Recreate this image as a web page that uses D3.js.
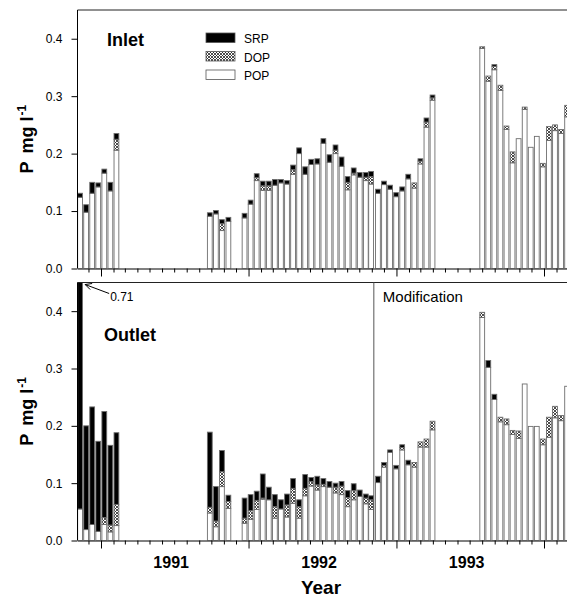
<!DOCTYPE html>
<html>
<head>
<meta charset="utf-8">
<script src="https://cdn.jsdelivr.net/npm/d3@7"></script>
<style>
  body { margin: 0; background: #fff; }
  text { font-family: "Liberation Sans", Arial, Helvetica, sans-serif; }
</style>
</head>
<body>
<div id="chart"></div>
<script>
// sampling dates (start of each ~2 week period), shared by inlet and outlet
var sampleDates = [
  "1990-11-03", "1990-11-18", "1990-12-03", "1990-12-18", "1991-01-02", "1991-01-17", "1991-02-01",
  "1991-09-20", "1991-10-05", "1991-10-20", "1991-11-05",
  "1991-12-15", "1991-12-30", "1992-01-14", "1992-01-29", "1992-02-13", "1992-02-28",
  "1992-03-14", "1992-03-29", "1992-04-13", "1992-04-28", "1992-05-13", "1992-05-28",
  "1992-06-12", "1992-06-27", "1992-07-12", "1992-07-27", "1992-08-11", "1992-08-26",
  "1992-09-10", "1992-09-25", "1992-10-10", "1992-10-23", "1992-11-09", "1992-11-24",
  "1992-12-09", "1992-12-24", "1993-01-08", "1993-01-23", "1993-02-07", "1993-02-22",
  "1993-03-09", "1993-03-24",
  "1993-07-25", "1993-08-09", "1993-08-24", "1993-09-08", "1993-09-23", "1993-10-08",
  "1993-10-23", "1993-11-07", "1993-11-22", "1993-12-07", "1993-12-22", "1994-01-06",
  "1994-01-21", "1994-02-05", "1994-02-20"
];

var inletSRP = [
  .007, .013, .019, .007, .007, .015, .010,
  .006, .006, .007, .007,
  .008, .007, .007, .008, .008, .010, .006, .006, .008, .010, .013, .009,
  .009, .008, .013, .009, .016, .010, .009, .008, .008, .009, .007, .006,
  .007, .007, .007, .008, 0, .004, .007, .005,
  0, 0, .003, 0, 0, 0, 0, 0, 0, 0, 0, 0, 0, 0, 0
];
var inletDOP = [
  0, 0, 0, 0, 0, 0, .019,
  0, 0, .012, 0,
  0, 0, .005, .008, .008, 0, 0, 0, .008, 0, 0, 0,
  0, 0, 0, .006, 0, .013, .003, 0, .006, .013, 0, 0,
  0, 0, 0, 0, .009, .005, .009, .004,
  .003, .009, .006, .009, .006, .019, 0, .004, 0, 0, .006, .024, .010, .007, .020
];
var inletPOP = [
  .124, .098, .131, .142, .166, .135, .206,
  .091, .095, .066, .082,
  .088, .112, .153, .136, .136, .145, .149, .147, .164, .200, .164, .181,
  .182, .218, .185, .200, .178, .137, .163, .159, .153, .147, .131, .146,
  .138, .125, .135, .156, .140, .182, .246, .293,
  .383, .326, .346, .310, .242, .184, .226, .277, .211, .230, .177, .223, .240, .235, .264
];

var outletSRP = [
  .655, .181, .205, .157, .185, .139, .125,
  .131, .060, .037, .011,
  .035, .028, .016, .042, .022, .021, .016, .019, .017, .012, .024, .007,
  .015, .010, .010, .007, .008, .012, .012, .011, .007, .007, .011, .005,
  .004, .006, .005, .008, 0, 0, 0, 0,
  0, .012, .009, 0, 0, 0, 0, 0, 0, 0, 0, 0, 0, 0, 0
];
var outletDOP = [
  0, 0, 0, 0, .012, .012, .037,
  .010, .010, .026, .012,
  .009, .015, .016, .002, 0, .020, 0, .021, .026, .020, .013, .008,
  .009, .004, 0, .010, .015, .016, .016, 0, .010, .017, 0, .003,
  0, 0, .004, 0, .008, .009, .014, .015,
  .009, 0, 0, .008, .010, .007, .013, 0, 0, 0, .010, .035, .020, .009, 0
];
var outletPOP = [
  .055, .019, .028, .016, .028, .015, .026,
  .048, .024, .094, .056,
  .030, .037, .054, .072, .071, .039, .055, .041, .065, .039, .078, .095,
  .088, .094, .093, .083, .080, .059, .071, .077, .064, .054, .101, .128,
  .154, .125, .158, .132, .128, .163, .163, .193,
  .389, .302, .246, .207, .202, .185, .178, .273, .199, .199, .167, .180, .214, .209, .269
];

var seriesKeys = ["POP", "DOP", "SRP"];
var legendLabels = ["SRP", "DOP", "POP"];
var yTicks = [0, 0.1, 0.2, 0.3, 0.4];
var yearLabels = ["1991", "1992", "1993"];
var modificationDate = "1992-11-06";
var peakLabel = "0.71";

var width = 567, height = 597;
var left = 77.5, right = 567;
var parse = d3.utcParse("%Y-%m-%d");

var svg = d3.select("#chart").append("svg")
    .attr("width", width)
    .attr("height", height);

var defs = svg.append("defs");
var pat = defs.append("pattern")
    .attr("id", "hatch")
    .attr("patternUnits", "userSpaceOnUse")
    .attr("width", 3).attr("height", 3);
pat.append("rect").attr("width", 3).attr("height", 3).attr("fill", "#fff");
pat.append("path").attr("d", "M0,0L3,3M3,0L0,3").attr("stroke", "#222").attr("stroke-width", 0.8);

var fills = { SRP: "#000", DOP: "url(#hatch)", POP: "#fff" };

// time scale: Jan 1st ticks fall at 101 and 544 px
var x = d3.scaleUtc()
    .domain([Date.UTC(1991, 0, 1), Date.UTC(1994, 0, 1)])
    .range([101, 544]);
x.domain([x.invert(left), x.invert(right)]).range([left, right]);

var months = d3.utcMonth.range(x.domain()[0], x.domain()[1]);

function buildRows(srp, dop, pop) {
    return sampleDates.map(function (d, i) {
        return { date: parse(d), SRP: srp[i], DOP: dop[i], POP: pop[i] };
    });
}

function drawPanel(name, top, bottom, srp, dop, pop, lastPanel) {
    var y = d3.scaleLinear().domain([0, 0.45]).range([bottom, top]);
    var g = svg.append("g").attr("class", name);

    defs.append("clipPath").attr("id", "clip-" + name)
        .append("rect")
        .attr("x", left).attr("y", top)
        .attr("width", right - left).attr("height", bottom - top);

    var rows = buildRows(srp, dop, pop);
    var stacked = d3.stack().keys(seriesKeys)(rows);

    var bars = g.append("g").attr("clip-path", "url(#clip-" + name + ")");
    bars.selectAll("g.layer")
        .data(stacked)
        .enter()
        .append("g")
        .attr("class", "layer")
        .attr("fill", function (s) { return fills[s.key]; })
        .selectAll("rect")
        .data(function (s) { return s.filter(function (d) { return d[1] - d[0] > 0; }); })
        .enter()
        .append("rect")
        .attr("x", function (d) { return x(d.data.date) + 0.5; })
        .attr("width", 4.8)
        .attr("y", function (d) { return y(d[1]); })
        .attr("height", function (d) { return y(d[0]) - y(d[1]); })
        .attr("stroke", "#6e6e6e")
        .attr("stroke-width", 0.9);

    // frame line on top
    g.append("line")
        .attr("x1", left).attr("x2", right)
        .attr("y1", top).attr("y2", top)
        .attr("stroke", "#222").attr("stroke-width", 1);

    // y axis
    var yAxis = g.append("g")
        .attr("transform", "translate(" + left + ",0)")
        .call(d3.axisLeft(y).tickValues(yTicks).tickSize(6).tickSizeOuter(0).tickPadding(9)
            .tickFormat(d3.format(".1f")));
    yAxis.select(".domain").attr("d", "M0," + top + "V" + bottom);
    yAxis.selectAll("text").attr("font-size", 12).attr("font-family", null);

    // x axis, monthly ticks, longer at each new year
    var xAxis = g.append("g")
        .attr("transform", "translate(0," + bottom + ")")
        .call(d3.axisBottom(x).tickValues(months).tickSize(4).tickSizeOuter(0).tickFormat(""));
    xAxis.selectAll(".tick line")
        .attr("y2", function (d) { return d.getUTCMonth() === 0 ? 8 : 4; });

    if (lastPanel) {
        g.selectAll("text.year")
            .data(yearLabels)
            .enter()
            .append("text")
            .attr("class", "year")
            .attr("x", function (d) { return x(Date.UTC(+d, 6, 1)) - 3; })
            .attr("y", bottom + 27)
            .attr("text-anchor", "middle")
            .attr("font-size", 16)
            .attr("font-weight", "bold")
            .text(function (d) { return d; });
    }

    // y title
    var yt = g.append("text")
        .attr("transform", "translate(33," + ((top + bottom) / 2) + ") rotate(-90)")
        .attr("text-anchor", "middle")
        .attr("font-size", 18)
        .attr("font-weight", "bold");
    yt.append("tspan").text("P");
    yt.append("tspan").attr("dx", 8).text("mg l");
    yt.append("tspan").attr("dy", -7).attr("dx", 1).attr("font-size", 12).text("-1");

    return { g: g, y: y };
}

var inlet = drawPanel("inlet", 10, 268.5, inletSRP, inletDOP, inletPOP, false);
var outlet = drawPanel("outlet", 282.5, 540.5, outletSRP, outletDOP, outletPOP, true);

inlet.g.append("text")
    .attr("x", 107).attr("y", 46)
    .attr("font-size", 18).attr("font-weight", "bold")
    .text("Inlet");

outlet.g.append("text")
    .attr("x", 104).attr("y", 341)
    .attr("font-size", 18).attr("font-weight", "bold")
    .text("Outlet");

// legend
var legend = inlet.g.append("g").attr("transform", "translate(206,33)");
legendLabels.forEach(function (k, i) {
    legend.append("rect")
        .attr("x", 0).attr("y", i * 18.5)
        .attr("width", 29).attr("height", 9.5)
        .attr("fill", fills[k])
        .attr("stroke", "#555").attr("stroke-width", 0.8);
    legend.append("text")
        .attr("x", 38).attr("y", i * 18.5 + 10)
        .attr("font-size", 12)
        .text(k);
});

// modification marker
var mx = x(parse(modificationDate));
outlet.g.append("line")
    .attr("x1", mx).attr("x2", mx)
    .attr("y1", outlet.y(0.45)).attr("y2", outlet.y(0))
    .attr("stroke", "#555").attr("stroke-width", 1);
outlet.g.append("text")
    .attr("x", mx + 9).attr("y", 302)
    .attr("font-size", 15)
    .text("Modification");

// off-scale value of first outlet bar
var bx = x(parse(sampleDates[0])) + 8;
outlet.g.append("path")
    .attr("d", "M" + (bx + 24) + ",293.5L" + bx + ",284.5M" + (bx + 7) + ",283.5L" + bx + ",284.5L" + (bx + 5) + ",289.5")
    .attr("fill", "none").attr("stroke", "#000").attr("stroke-width", 1);
outlet.g.append("text")
    .attr("x", bx + 25).attr("y", 301)
    .attr("font-size", 12)
    .text(peakLabel);

svg.append("text")
    .attr("x", 321).attr("y", 594)
    .attr("text-anchor", "middle")
    .attr("font-size", 19).attr("font-weight", "bold")
    .text("Year");
</script>
</body>
</html>
